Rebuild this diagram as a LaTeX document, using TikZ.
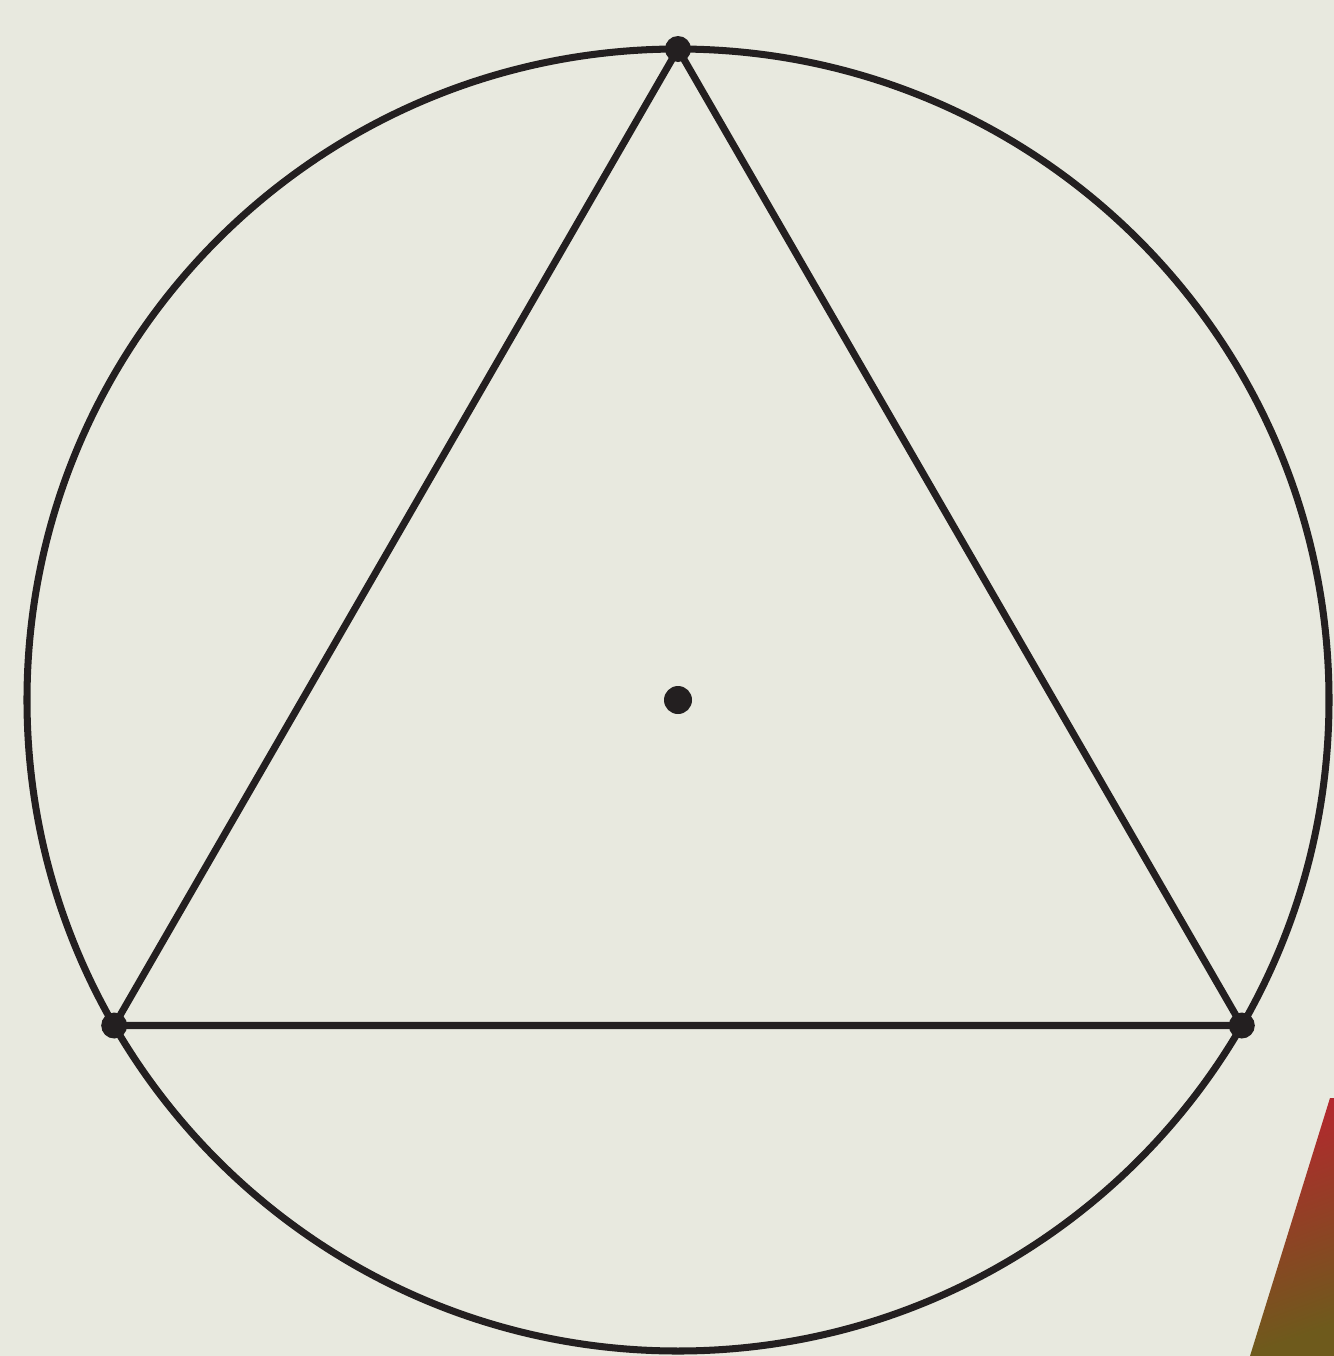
\documentclass[tikz,border=0pt]{standalone}
\usepackage{xcolor}
\usetikzlibrary{calc}
\definecolor{paper}{HTML}{E8E9DF}
\definecolor{ink}{HTML}{231F20}
\definecolor{redcorner}{HTML}{B3282E}
\definecolor{olivecorner}{HTML}{6E5A1C}
\tikzset{
  edge/.style={line width=4pt, color=ink, line join=round},
  vertexdot/.style={fill=ink},
}

\begin{document}
\begin{tikzpicture}[x={(0.02cm,0)}, y={(0,-0.02cm)}]
\fill[paper] (0,0) rectangle (1334,1356);
\useasboundingbox (0,0) rectangle (1334,1356);
% corner of the red card
\shade[top color=redcorner, bottom color=olivecorner, shading angle=20]
  (1330,1098) -- (1334,1098) -- (1334,1356) -- (1250,1356) -- cycle;
\coordinate (O) at (678,700);
\coordinate (A) at (678,49);
\coordinate (B) at ($(O)+(-563.8,325.5)$);
\coordinate (C) at ($(O)+(563.8,325.5)$);
\draw[edge] (O) circle (651);
\draw[edge] (A) -- (B) -- (C) -- cycle;
\foreach \p in {A,B,C} {\fill[vertexdot] (\p) circle (13);}
\fill[vertexdot] (O) circle (14);
\end{tikzpicture}
\end{document}
